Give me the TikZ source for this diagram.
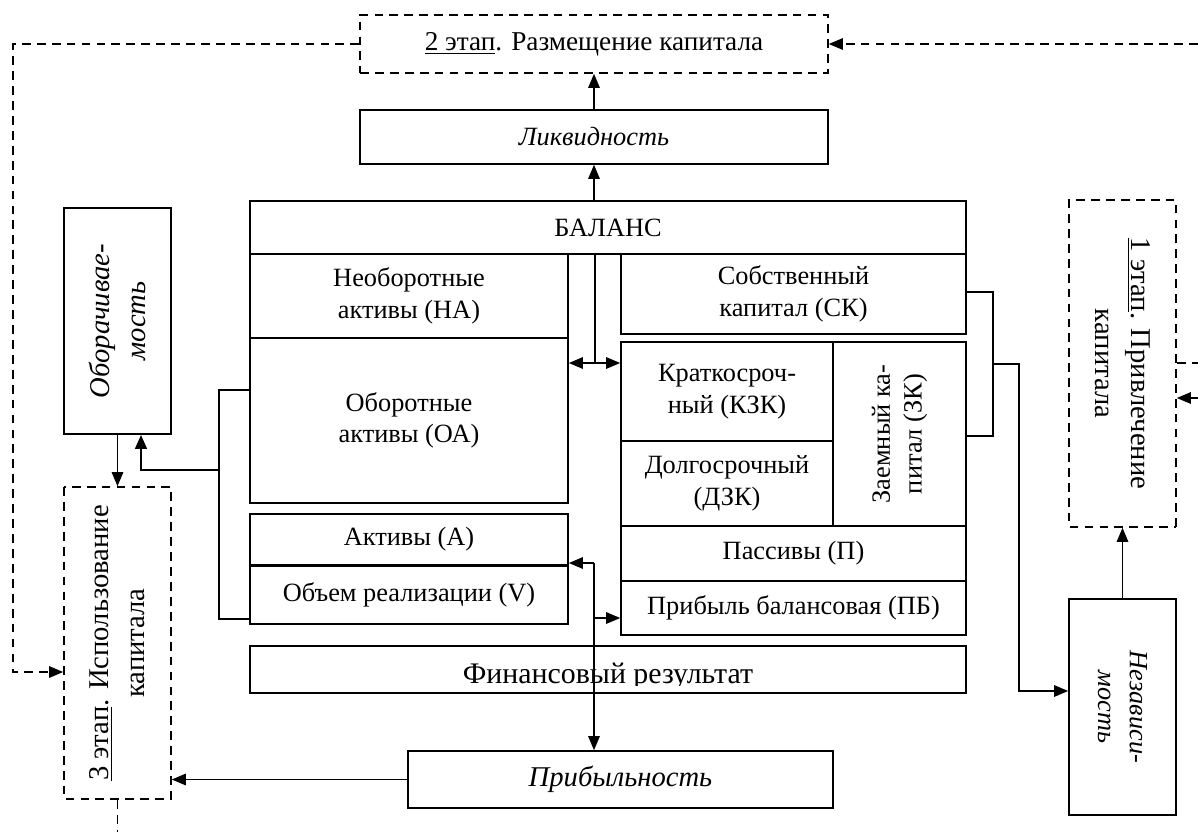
\documentclass[tikz,border=0pt]{standalone}
\usepackage{fontspec}
\setmainfont{Liberation Serif}
\usepackage{tikz}
\usetikzlibrary{arrows.meta}

\begin{document}
\begin{tikzpicture}[x=0.02cm, y=-0.02cm,
    blk/.style={draw, line width=0.9pt, inner sep=2pt, align=center,
      font=\fontsize{15}{18}\selectfont},
    ital/.style={font=\fontsize{15}{18}\selectfont\itshape},
    big/.style={font=\fontsize{16.3}{20.5}\selectfont},
    bigit/.style={font=\fontsize{16.3}{20.5}\selectfont\itshape},
    stage/.style={blk, dash pattern=on 5pt off 3.5pt},
    sz/.style 2 args={minimum width=#1*0.02cm, minimum height=#2*0.02cm},
    link/.style={line width=1pt, -{Triangle[length=8pt,width=6.5pt]}},
    brk/.style={line width=1.6pt},
    dsh/.style={line width=1pt, dash pattern=on 5pt off 3.5pt},
    dlink/.style={dsh, -{Triangle[length=8pt,width=6.5pt]}}]
  \useasboundingbox (0,0) rectangle (1198,832);
  % stages and indicators
  \node[stage, font=\fontsize{15.5}{18}\selectfont, sz={468}{58}] (st2) at (594,44) {\underline{2 этап}. Размещение капитала};
  \node[blk, ital, sz={468}{54}] (liq) at (594,137) {Ликвидность};
  \node[blk, bigit, sz={226}{107}, rotate=90] (obr) at (117.5,321) {Оборачивае-\\мость};
  \node[stage, big, sz={312}{107}, rotate=90] (st3) at (117.5,643) {\underline{3 этап}. Использование\\капитала};
  \node[stage, big, sz={327}{107}, rotate=-90] (st1) at (1122.5,363.5) {\underline{1 этап}. Привлечение\\капитала};
  \node[blk, ital, sz={216}{107}, rotate=-90] (nez) at (1122.5,707) {Независи-\\мость};
  \node[blk, bigit, sz={425}{57}] (prof) at (620.5,779.5) {Прибыльность};
  % balance
  \node[blk, sz={716}{53}] (bal) at (608,227.5) {БАЛАНС};
  \node[blk, sz={318}{84}] (na) at (409,296) {Необоротные\\активы (НА)};
  \node[blk, sz={318}{165}] (oa) at (409,420.5) {Оборотные\\активы (ОА)};
  \node[blk, sz={345}{80}] (sk) at (793.5,294) {Собственный\\капитал (СК)};
  \node[blk, sz={212}{99}] (kzk) at (727,391.5) {Краткосроч-\\ный (КЗК)};
  \node[blk, sz={212}{85}] (dzk) at (727,483.5) {Долгосрочный\\(ДЗК)};
  \node[blk, sz={184}{133}, rotate=90] (zk) at (899.5,434) {Заемный ка-\\питал (ЗК)};
  \node[blk, sz={345}{55}] (pas) at (793.5,553.5) {Пассивы (П)};
  \node[blk, sz={345}{54}] (pb) at (793.5,608) {Прибыль балансовая (ПБ)};
  \node[blk, sz={318}{51}] (act) at (409,539.5) {Активы (А)};
  \node[blk, sz={318}{59}] (vol) at (409,594.5) {Объем реализации (V)};
  \draw[brk] (act.south west) -- (act.south east);
  \node[blk, sz={716}{47}] (fin) at (608,669.5) {};
  \begin{scope}
    \clip (250,646) rectangle (966,685);
    \node[font=\fontsize{17}{20}\selectfont, anchor=base] (finlbl) at (608,683) {Финансовый результат};
  \end{scope}

  % connectors at the top
  \draw[link] (liq.north) -- (st2.south);
  \draw[link] (liq.south |- bal.north) -- (liq.south);
  \coordinate (mid) at (595,363);
  \draw[line width=1pt] (mid |- bal.south) -- (mid);
  \draw[line width=1pt, {Triangle[length=8pt,width=6.5pt]}-{Triangle[length=8pt,width=6.5pt]}]
    (oa.east |- mid) -- (kzk.west |- mid);

  % left bracket
  \coordinate (lb1) at (219,390);
  \coordinate (lb2) at (219,619);
  \coordinate (lb3) at (219,470);
  \coordinate (ob2) at (141,0);
  \draw[brk] (oa.west |- lb1) -- (lb1) -- (lb2) -- (vol.west |- lb2);
  \draw[brk, -{Triangle[length=8pt,width=6.5pt]}] (lb3) -| (ob2 |- obr.west);
  \draw[link] (obr.west) -- (st3.east);

  % right bracket
  \coordinate (rb1) at (993,292);
  \coordinate (rb2) at (993,436);
  \coordinate (rb3) at (993,364);
  \coordinate (rb4) at (1019,691);
  \draw[brk] (sk.east |- rb1) -- (rb1) -- (rb2) -- (zk.south |- rb2);
  \draw[link] (rb3) -| (rb4) -- (rb4 -| nez.south);
  \draw[link] (nez.west) -- (st1.east);

  % profit links
  \coordinate (pj) at (594,563);
  \coordinate (pq) at (594,618);
  \coordinate (pk1) at (594,598);
  \coordinate (pk2) at (594,653);
  \draw[link] (pj) -- (pj -| act.east);
  \draw[link] (pj) -- (pj |- prof.north);
  \draw[link] (pq) -- (pq -| pb.west);
  \draw[brk] (pk1) -- (pk2);
  \draw[link] (prof.west) -- (prof.west -| st3.south);

  % dashed stage loop
  \coordinate (lc) at (13,672);
  \coordinate (re1) at (1198,44);
  \coordinate (re2) at (1198,363);
  \coordinate (re3) at (1198,398);
  \draw[dlink] (st2.west) -| (lc) -- (lc -| st3.north);
  \draw[dlink] (re1) -- (st2.east);
  \draw[dsh] (re2 -| st1.north) -- (re2);
  \draw[dlink] (re3) -- (re3 -| st1.north);
  \draw[dsh] (st3.west) -- (st3.west |- 0,832);
\end{tikzpicture}
\end{document}
